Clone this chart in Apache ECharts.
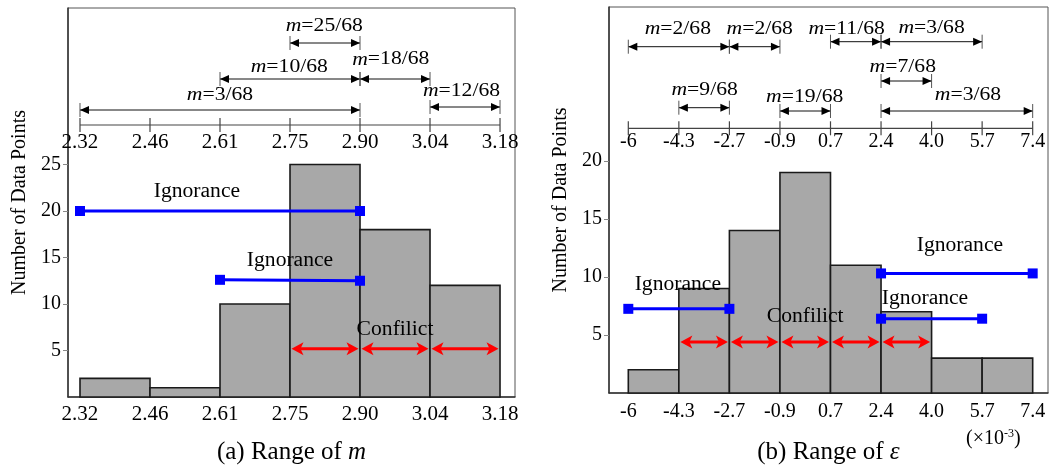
<!DOCTYPE html>
<html>
<head>
<meta charset="utf-8">
<script src="https://cdn.jsdelivr.net/npm/echarts@6/dist/echarts.min.js"></script>
<style>html,body{margin:0;padding:0;background:#fff}#c{width:1049px;height:470px}</style>
</head>
<body>
<div id="c"></div>
<script>
// ---------- data ----------
const binsA = ['2.32','2.46','2.61','2.75','2.90','3.04','3.18'];
const countsA = [2, 1, 10, 25, 18, 12];
const binsB = ['-6','-4.3','-2.7','-0.9','0.7','2.4','4.0','5.7','7.4'];
const countsB = [2, 9, 14, 19, 11, 7, 3, 3];
const yTicksA = [5, 10, 15, 20, 25];
const yTicksB = [5, 10, 15, 20];

// interval annotations: [fromBin, toBin, level, labelBinX, labelLevel]
const intervalsA = [[0,4,1.5,2.0,3.0],[2,4,4.6,2.99,5.8],[3,4,8.2,3.49,9.9],[4,5,4.6,4.44,6.55],[5,6,1.8,5.45,3.4]];
const massA = ['3/68','10/68','25/68','18/68','12/68'];
const intervalsB = [[0,2,8.16,0.98,9.9],[2,3,8.16,2.6,9.9],[4,5,8.66,4.32,9.9],[5,7,8.66,6.0,10.05],[5,6,4.73,5.43,6.16],[1,2,2.06,1.51,3.83],[3,4,1.73,3.49,3.16],[5,8,1.73,6.72,3.33]];
const massB = ['2/68','2/68','11/68','3/68','7/68','9/68','19/68','3/68'];

// ignorance intervals (blue): [[x0,y0],[x1,y1]]
const ignorA = [[[0,20],[4,20]], [[2,12.6],[4,12.5]]];
const ignorB = [[[0,7.25],[2,7.25]], [[5,10.3],[8,10.3]], [[5,6.4],[7,6.4]]];
// conflict arrows (red): [fromBin, toBin, y]
const conflictA = [[3,4,5.2],[4,5,5.2],[5,6,5.2]];
const conflictB = [[1,2,4.4],[2,3,4.4],[3,4,4.4],[4,5,4.4],[5,6,4.4]];
// text notes: [x, y]
const notesA = [[1.67,22.1],[3.0,14.6],[4.5,7.2]];
const notesATxt = ['Ignorance','Ignorance','Confilict'];
const notesB = [[0.98,9.3],[6.56,12.7],[5.87,8.1],[3.5,6.55]];
const notesBTxt = ['Ignorance','Ignorance','Ignorance','Confilict'];

// ---------- rendering ----------
const FONT = 'Liberation Serif';
const chart = echarts.init(document.getElementById('c'), null, {renderer:'canvas'});

function barSeries(counts, xi, yi){
  return {
    type:'custom', xAxisIndex:xi, yAxisIndex:yi, z:2,
    data: counts.map((c,i)=>[i,c]),
    renderItem(params, api){
      const i = api.value(0), h = api.value(1);
      const p0 = api.coord([i,0]), p1 = api.coord([i+1,h]);
      return {type:'rect', shape:{x:p0[0], y:p1[1], width:p1[0]-p0[0], height:p0[1]-p1[1]},
        style:{fill:'#a8a8a8', stroke:'#1a1a1a', lineWidth:1.6}};
    }
  };
}
function topAxisSeries(bins, xi, yi){
  return {
    type:'custom', xAxisIndex:xi, yAxisIndex:yi, z:3,
    data: bins.map((b,i)=>[i]),
    renderItem(params, api){
      const i = api.value(0);
      const p = api.coord([i,0]);
      const ch = [{type:'line', shape:{x1:p[0],y1:p[1]-7,x2:p[0],y2:p[1]+7}, style:{stroke:'#444', lineWidth:1.2}}];
      if (i < bins.length-1){
        const q = api.coord([i+1,0]);
        ch.push({type:'line', shape:{x1:p[0],y1:p[1],x2:q[0],y2:q[1]}, style:{stroke:'#444', lineWidth:1.2}});
      }
      return {type:'group', children:ch};
    }
  };
}
function intervalSeries(intervals, mass, xi, yi){
  return {
    type:'custom', xAxisIndex:xi, yAxisIndex:yi, z:4,
    data: intervals,
    renderItem(params, api){
      const a = api.coord([api.value(0), api.value(2)]);
      const b = api.coord([api.value(1), api.value(2)]);
      const t = api.coord([api.value(3), api.value(4)]);
      const y = a[1], L = 9, W = 4;
      return {type:'group', children:[
        {type:'line', shape:{x1:a[0],y1:y,x2:b[0],y2:y}, style:{stroke:'#111', lineWidth:1}},
        {type:'line', shape:{x1:a[0],y1:y-7,x2:a[0],y2:y+7}, style:{stroke:'#555', lineWidth:1}},
        {type:'line', shape:{x1:b[0],y1:y-7,x2:b[0],y2:y+7}, style:{stroke:'#555', lineWidth:1}},
        {type:'polygon', shape:{points:[[a[0],y],[a[0]+L,y-W],[a[0]+L,y+W]]}, style:{fill:'#000'}},
        {type:'polygon', shape:{points:[[b[0],y],[b[0]-L,y-W],[b[0]-L,y+W]]}, style:{fill:'#000'}},
        {type:'text', x:t[0], y:t[1], scaleX:1.14,
          style:{text:'{i|m}=' + mass[params.dataIndex], x:0, y:0, align:'center', verticalAlign:'middle',
            fill:'#000', fontFamily:FONT, fontSize:19,
            rich:{i:{fontStyle:'italic', fontFamily:FONT, fontSize:19, fill:'#000'}}}}
      ]};
    }
  };
}
function conflictSeries(arr, xi, yi){
  return {
    type:'custom', xAxisIndex:xi, yAxisIndex:yi, z:6,
    data: arr,
    renderItem(params, api){
      const a = api.coord([api.value(0), api.value(2)]);
      const b = api.coord([api.value(1), api.value(2)]);
      const y = a[1], L = 12, W = 6.5, ax = a[0]+1.5, bx = b[0]-1.5;
      return {type:'group', children:[
        {type:'line', shape:{x1:ax+6,y1:y,x2:bx-6,y2:y}, style:{stroke:'#ff0000', lineWidth:3}},
        {type:'polygon', shape:{points:[[ax,y],[ax+L,y-W],[ax+L-3,y],[ax+L,y+W]]}, style:{fill:'#ff0000'}},
        {type:'polygon', shape:{points:[[bx,y],[bx-L,y-W],[bx-L+3,y],[bx-L,y+W]]}, style:{fill:'#ff0000'}}
      ]};
    }
  };
}
function noteSeries(pos, txt, xi, yi){
  return {
    type:'custom', xAxisIndex:xi, yAxisIndex:yi, z:7,
    data: pos,
    renderItem(params, api){
      const p = api.coord([api.value(0), api.value(1)]);
      return {type:'text', x:p[0], y:p[1], scaleX:1.08,
        style:{text:txt[params.dataIndex], x:0, y:0, align:'center', verticalAlign:'middle',
          fill:'#000', fontFamily:FONT, fontSize:20}};
    }
  };
}
function ignorSeries(arr, xi, yi){
  return arr.map(seg => ({
    type:'line', xAxisIndex:xi, yAxisIndex:yi, z:5, data:seg,
    symbol:'rect', symbolSize:10, showSymbol:true,
    lineStyle:{color:'#0000ff', width:3}, itemStyle:{color:'#0000ff'}
  }));
}

function mainX(min, max, bins, name, gap, fs, margin){
  return {type:'value', min, max, gridIndex:0,
    axisLine:{show:true, onZero:false, lineStyle:{color:'#333', width:1.5}},
    axisTick:{show:false}, splitLine:{show:false},
    axisLabel:{customValues:bins.map((b,i)=>i), formatter:v=>bins[Math.round(v)], color:'#000',
      fontFamily:FONT, fontSize:fs, margin},
    name, nameLocation:'middle', nameGap:gap,
    nameTextStyle:{color:'#000', fontFamily:FONT, fontSize:25,
      rich:{i:{fontStyle:'italic', fontFamily:FONT, fontSize:25, color:'#000'}}}
  };
}
function topX(min, max, bins, fs, margin){
  return {type:'value', min, max, position:'bottom',
    axisLine:{show:false, onZero:false}, axisTick:{show:false}, splitLine:{show:false},
    axisLabel:{customValues:bins.map((b,i)=>i), formatter:v=>bins[Math.round(v)], color:'#000',
      fontFamily:FONT, fontSize:fs, margin}
  };
}
function mainY(max, ticks, fs){
  return {type:'value', min:0, max,
    axisLine:{show:true, onZero:false, lineStyle:{color:'#333', width:1.5}},
    axisTick:{show:true, customValues:ticks, length:5, lineStyle:{color:'#888'}},
    splitLine:{show:false},
    axisLabel:{customValues:ticks, color:'#000', fontFamily:FONT, fontSize:fs, margin:7},
    name:'Number of Data Points', nameLocation:'middle', nameGap:38,
    nameTextStyle:{color:'#000', fontFamily:FONT, fontSize:20}
  };
}
function hiddenY(max){
  return {type:'value', min:0, max, show:false, axisLine:{show:false, onZero:false}, splitLine:{show:false}};
}

const xA = mainX(-0.1714, 6.214, binsA, '(a) Range of {i|m}', 43, 21, 7);
const xB = mainX(-0.382, 8.303, binsB, '(b) Range of {i|ε}', 47, 20, 9);
xA.gridIndex = 0; xB.gridIndex = 2;
const txA = topX(-0.1714, 6.214, binsA, 21, 7); txA.gridIndex = 1;
const txB = topX(-0.382, 8.303, binsB, 20, 3); txB.gridIndex = 3;
const yA = mainY(41.83, yTicksA, 20); yA.gridIndex = 0;
const yB = mainY(33.25, yTicksB, 20); yB.gridIndex = 2;
const tyA = hiddenY(11.7); tyA.gridIndex = 1;
const tyB = hiddenY(12.13); tyB.gridIndex = 3;

const option = {
  animation:false,
  backgroundColor:'#fff',
  grid:[
    {left:68, top:8, width:447, height:389, show:true, borderColor:'#555', borderWidth:1, backgroundColor:'transparent'},
    {left:68, top:8, width:447, height:117},
    {left:609, top:7, width:439, height:389, show:true, borderColor:'#555', borderWidth:1, backgroundColor:'transparent'},
    {left:609, top:7, width:439, height:121.3}
  ],
  xAxis:[xA, txA, xB, txB],
  yAxis:[yA, tyA, yB, tyB],
  graphic:[
    {type:'text', left:966, top:428, style:{text:'(×10{s|-3})', fill:'#000', fontFamily:FONT, fontSize:20,
      rich:{s:{fontSize:12, verticalAlign:'top', fontFamily:FONT, fill:'#000', padding:[0,0,10,0]}}}}
  ],
  series:[
    barSeries(countsA, 0, 0),
    topAxisSeries(binsA, 1, 1),
    intervalSeries(intervalsA, massA, 1, 1),
    ...ignorSeries(ignorA, 0, 0),
    conflictSeries(conflictA, 0, 0),
    noteSeries(notesA, notesATxt, 0, 0),
    barSeries(countsB, 2, 2),
    topAxisSeries(binsB, 3, 3),
    intervalSeries(intervalsB, massB, 3, 3),
    ...ignorSeries(ignorB, 2, 2),
    conflictSeries(conflictB, 2, 2),
    noteSeries(notesB, notesBTxt, 2, 2)
  ]
};
chart.setOption(option);
</script>
</body>
</html>
